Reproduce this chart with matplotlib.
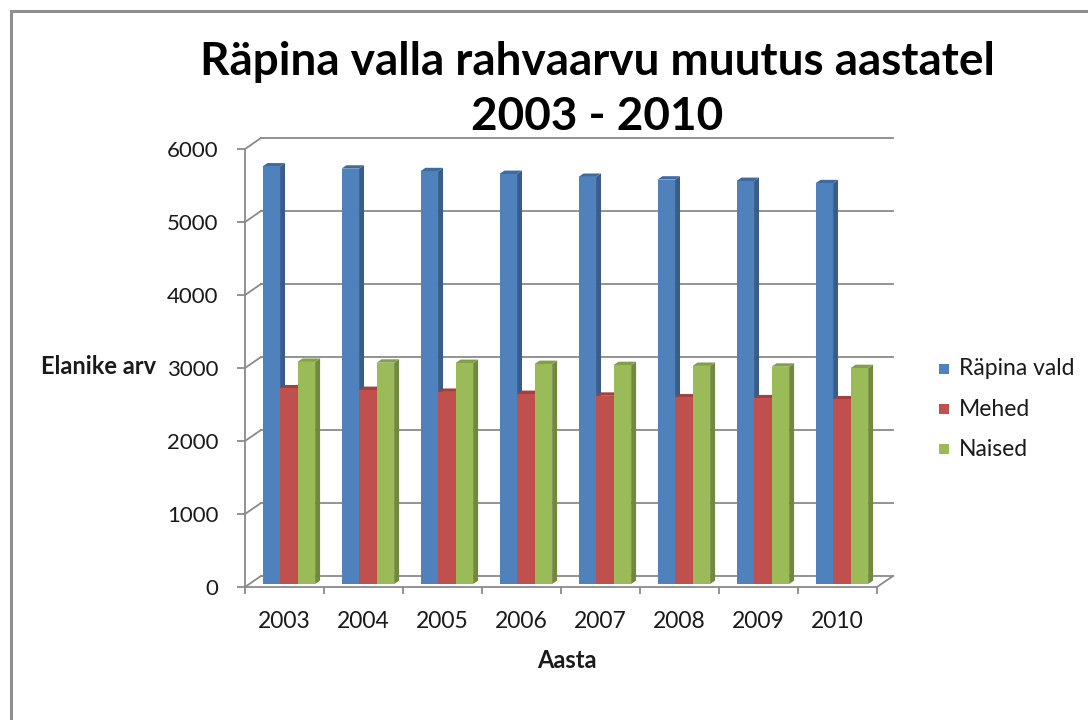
import matplotlib
matplotlib.use("Agg")
import matplotlib.pyplot as plt
from matplotlib.patches import Polygon, Rectangle
import numpy as np

years = ["2003", "2004", "2005", "2006", "2007", "2008", "2009", "2010"]
series_names = ["Räpina vald", "Mehed", "Naised"]
rapina = [5720, 5690, 5655, 5617, 5577, 5540, 5521, 5490]
mehed = [2680, 2658, 2632, 2603, 2579, 2556, 2544, 2530]
naised = [3043, 3032, 3028, 3014, 2999, 2988, 2977, 2958]
yticks = [0, 1000, 2000, 3000, 4000, 5000, 6000]

title_line1 = "Räpina valla rahvaarvu muutus aastatel"
title_line2 = "2003 - 2010"
ylabel = "Elanike arv"
xlabel = "Aasta"

front_cols = ["#4F81BD", "#C0504D", "#9BBB59"]
side_cols = ["#385D8A", "#8C3836", "#71893F"]
top_cols = ["#3F6A9F", "#A43F3C", "#82A049"]

FONT = "Lato"
W, H = 1088, 720
DPI = 100
fig = plt.figure(figsize=(W / DPI, H / DPI), dpi=DPI)

# axes placement in pixels (front plane)
x0_px, x1_px = 245, 877
y0_px, y1_px = 587, 149
ax = fig.add_axes([x0_px / W, (H - y0_px) / H, (x1_px - x0_px) / W, (y0_px - y1_px) / H])
n = len(years)
ax.set_xlim(-0.5, n - 0.5)
ax.set_ylim(0, 6000)

# depth offset (pixels -> data)
px_x = (n) / (x1_px - x0_px)
px_y = 6000 / (y0_px - y1_px)
ddx, ddy = 16 * px_x, 11 * px_y

grid_col = "#8A8A8A"
glw = 1.3
# back wall gridlines and side-wall diagonals
for v in yticks:
    ax.plot([-0.5 + ddx, n - 0.5 + ddx], [v + ddy, v + ddy], color=grid_col, lw=glw,
            clip_on=False, zorder=1)
    ax.plot([-0.5, -0.5 + ddx], [v, v + ddy], color=grid_col, lw=glw, clip_on=False, zorder=1)
# floor right diagonal
ax.plot([n - 0.5, n - 0.5 + ddx], [0, ddy], color=grid_col, lw=glw, clip_on=False, zorder=1)

# bars
bw = 0.222
f0, f1 = 0.27, 0.58
data = [rapina, mehed, naised]
for i in range(n):
    for s in range(3):
        h = data[s][i]
        xl = i - 1.5 * bw + s * bw
        xr = xl + bw
        ox0, oy0 = f0 * ddx, f0 * ddy
        ox1, oy1 = f1 * ddx, f1 * ddy
        side = Polygon([(xr + ox0, oy0), (xr + ox0, h + oy0), (xr + ox1, h + oy1), (xr + ox1, oy1)],
                       closed=True, facecolor=side_cols[s], edgecolor="none", clip_on=False, zorder=3)
        top = Polygon([(xl + ox0, h + oy0), (xr + ox0, h + oy0), (xr + ox1, h + oy1), (xl + ox1, h + oy1)],
                      closed=True, facecolor=top_cols[s], edgecolor="none", clip_on=False, zorder=3)
        ax.add_patch(side)
        ax.add_patch(top)
        ax.bar(xl + ox0, h, width=bw, bottom=oy0, align="edge", color=front_cols[s],
               edgecolor="none", zorder=3, clip_on=False)

# spines and ticks
for sp in ["top", "right"]:
    ax.spines[sp].set_visible(False)
for sp in ["left", "bottom"]:
    ax.spines[sp].set_color(grid_col)
    ax.spines[sp].set_linewidth(glw)
ax.set_yticks(yticks)
ax.set_yticklabels([str(v) for v in yticks], fontsize=16, family=FONT, color="#1a1a1a")
ax.set_xticks(range(n))
ax.set_xticklabels(years, fontsize=16.5, family=FONT, color="#1a1a1a")
ax.set_xticks(np.arange(-0.5, n, 1.0), minor=True)
ax.tick_params(axis="x", which="major", length=0, pad=17)
ax.tick_params(axis="x", which="minor", length=5, width=glw, color=grid_col, direction="out")
ax.tick_params(axis="y", length=6, width=glw, color=grid_col, direction="out", pad=13)
ax.patch.set_visible(False)

# labels
fig.text(99 / W, 1 - 367 / H, ylabel, fontsize=17, family=FONT, fontweight="bold",
         ha="center", va="center", color="#1a1a1a")
fig.text(567 / W, 1 - 661 / H, xlabel, fontsize=17, family=FONT, fontweight="bold",
         ha="center", va="center", color="#1a1a1a")
fig.text(597 / W, 1 - 62 / H, title_line1, fontsize=33, family=FONT, fontweight="bold",
         ha="center", va="center", color="black")
fig.text(597 / W, 1 - 117 / H, title_line2, fontsize=33, family=FONT, fontweight="bold",
         ha="center", va="center", color="black")

# legend
leg_y = [369, 409, 449]
for s in range(3):
    fig.patches.append(Rectangle(((939) / W, 1 - (leg_y[s] + 5) / H), 10 / W, 10 / H,
                                 transform=fig.transFigure, facecolor=front_cols[s],
                                 edgecolor="none"))
    fig.text(959 / W, 1 - leg_y[s] / H, series_names[s], fontsize=16.5, family=FONT,
             ha="left", va="center", color="#1a1a1a")

# outer chart frame
fig.patches.append(Rectangle((11 / W, -0.05), 1.2, 1 - 11 / H + 0.05, transform=fig.transFigure,
                             facecolor="none", edgecolor="#8F8F8F", linewidth=2.2))

fig.savefig("out.png", dpi=DPI)
